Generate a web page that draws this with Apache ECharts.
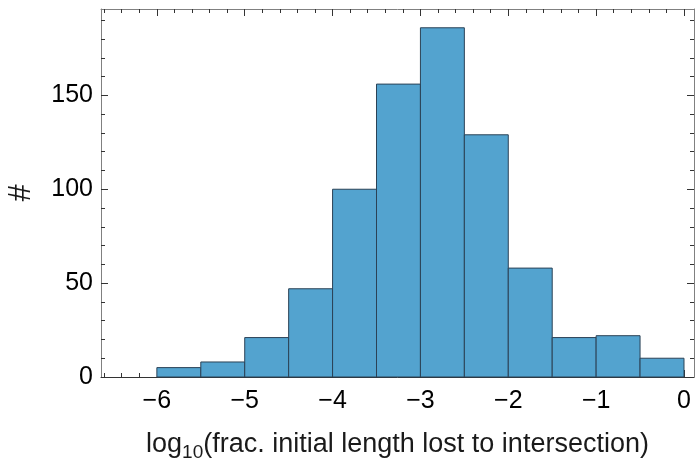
<!DOCTYPE html>
<html><head><meta charset="utf-8">
<script src="https://cdn.jsdelivr.net/npm/echarts@6/dist/echarts.min.js"></script>
<style>html,body{margin:0;padding:0;background:#fff}#c{width:695px;height:459px}</style>
</head><body><div id="c"></div>
<script>
var binStarts = [-6, -5.5, -5, -4.5, -4, -3.5, -3, -2.5, -2, -1.5, -1, -0.5];
var binWidth = 0.5;
var counts = [5, 8, 21, 47, 100, 156, 186, 129, 58, 21, 22, 10];
var xMajor = [-6, -5, -4, -3, -2, -1, 0];
var xMinor = [-6.6,-6.4,-6.2,-5.8,-5.6,-5.4,-5.2,-4.8,-4.6,-4.4,-4.2,-3.8,-3.6,-3.4,-3.2,-2.8,-2.6,-2.4,-2.2,-1.8,-1.6,-1.4,-1.2,-0.8,-0.6,-0.4,-0.2];
var yMajor = [0, 50, 100, 150];
var yMinor = [10,20,30,40,60,70,80,90,110,120,130,140,160,170,180,190];
var xMin = -6.636, xMax = 0.114, yMin = 0, yMax = 196;

var font = 'Liberation Sans, Arial, sans-serif';
function fmt(v){ return String(v).replace('-', '\u2212'); }
function ax(kind, pos, vals, len, labels, line, extra){
  var a = {type:'value', position:pos, gridIndex:0,
    min: kind==='x'?xMin:yMin, max: kind==='x'?xMax:yMax,
    splitLine:{show:false},
    axisLine:{show:line, onZero:false, lineStyle:{color:'#808080', width:1}},
    axisTick:{show:true, inside:true, length:len, customValues:vals, lineStyle:{color:'#333', width:1}},
    axisLabel:{show:labels, customValues:vals, formatter:fmt, color:'#000', fontSize:25, fontFamily:font, margin: kind==='x'?12:8}};
  return Object.assign(a, extra||{});
}
var chart = echarts.init(document.getElementById('c'), null, {renderer:'canvas'});
chart.setOption({
  animation:false,
  backgroundColor:'#fff',
  grid:{left:101, right:1, top:9, bottom:82, containLabel:false, outerBoundsMode:'none'},
  xAxis:[
    ax('x','bottom', xMajor, 7, true, true, {
      axisLine:{show:true, onZero:false, lineStyle:{color:'#333', width:1}},
      name:'{a|log}{s|10}{a|(frac. initial length lost to intersection)}',
      nameLocation:'middle', nameGap:50,
      nameTextStyle:{rich:{a:{fontSize:27, fontFamily:font, color:'#1a1a1a'}, s:{fontSize:19, fontFamily:font, color:'#1a1a1a', verticalAlign:'bottom', padding:[16,0,0,0]}}}
    }),
    ax('x','bottom', xMinor, 4, false, false),
    ax('x','top', xMajor, 7, false, true),
    ax('x','top', xMinor, 4, false, false)
  ],
  yAxis:[
    ax('y','left', yMajor, 7, true, true, {
      name:'#', nameLocation:'middle', nameGap:64, nameRotate:90,
      nameTextStyle:{fontSize:31, fontFamily:font, color:'#1a1a1a'}
    }),
    ax('y','left', yMinor, 4, false, false),
    ax('y','right', yMajor, 7, false, true),
    ax('y','right', yMinor, 4, false, false)
  ],
  series:[{
    type:'custom', xAxisIndex:0, yAxisIndex:0,
    data: binStarts.map(function(s,i){ return [s, s+binWidth, counts[i]]; }),
    encode:{x:[0,1], y:2},
    renderItem:function(params, api){
      var p0 = api.coord([api.value(0), 0]);
      var p1 = api.coord([api.value(1), api.value(2)]);
      return {type:'rect', shape:{x:p0[0], y:p1[1], width:p1[0]-p0[0], height:p0[1]-p1[1]},
        style:{fill:'#53a3cf', stroke:'#2b4256', lineWidth:1}};
    }
  }]
});
</script></body></html>
